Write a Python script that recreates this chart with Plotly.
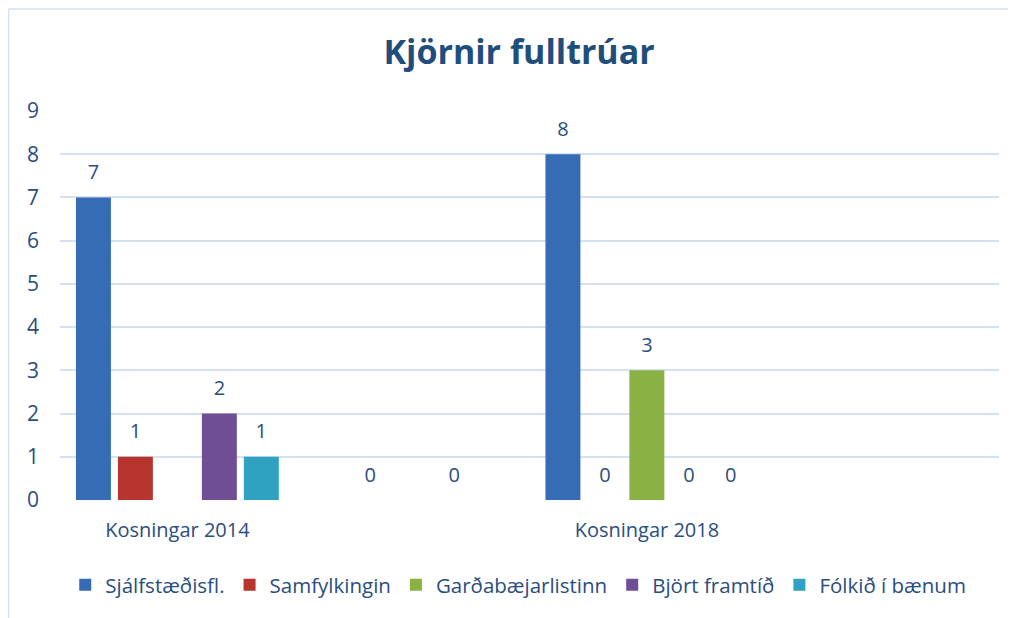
import plotly.graph_objects as go

categories = ["Kosningar 2014", " ", "Kosningar 2018", "  "]
series_names = ["Sjálfstæðisfl.", "Samfylkingin", "Garðabæjarlistinn", "Björt framtíð", "Fólkið í bænum"]
sjalfstaedisfl = [7, None, 8, None]
samfylkingin = [1, 0, 0, None]
gardabaejarlistinn = [None, None, 3, None]
bjort_framtid = [2, 0, 0, None]
folkid = [1, None, 0, None]
series_values = [sjalfstaedisfl, samfylkingin, gardabaejarlistinn, bjort_framtid, folkid]
colors = ["#356cb5", "#b8352f", "#8ab143", "#6f4e95", "#2ea2c0"]
y_ticks = list(range(0, 10))

TXT = "#2a4d7f"
FONT = "Open Sans"
BARGAP = 0.106

fig = go.Figure()
for name, vals, col in zip(series_names, series_values, colors):
    fig.add_trace(go.Bar(
        x=categories, y=vals, name=name,
        marker=dict(color=col, line=dict(width=0)),
        hoverinfo="skip",
    ))
for name, vals in zip(series_names, series_values):
    fig.add_trace(go.Scatter(
        x=categories, y=vals, name=name + " labels",
        mode="text+markers",
        marker=dict(size=20, opacity=0),
        text=[None if v is None else str(v) for v in vals],
        textposition="top center",
        textfont=dict(family=FONT, size=20, color=TXT),
        showlegend=False, hoverinfo="skip", cliponaxis=False,
    ))

fig.update_layout(
    width=1008, height=610,
    margin=dict(l=52, r=17, t=103, b=118),
    paper_bgcolor="white", plot_bgcolor="white",
    barmode="group", bargap=BARGAP, bargroupgap=0.167,
    scattermode="group", scattergap=BARGAP,
    title=dict(text="<b>Kjörnir fulltrúar</b>", x=0.507, xanchor="center",
               y=1 - 44 / 610, yanchor="middle",
               font=dict(family=FONT, size=34, color="#1f4e7d")),
    font=dict(family=FONT, color=TXT),
    showlegend=True,
    legend=dict(orientation="h", x=0.488, xanchor="center", y=-0.2185, yanchor="middle",
                font=dict(family=FONT, size=20.5, color=TXT),
                itemwidth=30, traceorder="normal"),
    xaxis=dict(type="category", categoryorder="array", categoryarray=categories,
               showline=False, showgrid=False, ticks="", ticklabelstandoff=16,
               tickfont=dict(family=FONT, size=20, color=TXT)),
    yaxis=dict(range=[0, 9], tickvals=y_ticks, showgrid=True,
               gridcolor="#d5e1f1", gridwidth=1.5, zeroline=False, showline=False,
               ticks="", ticklabelstandoff=20,
               tickfont=dict(family=FONT, size=21, color=TXT)),
    shapes=[
        dict(type="line", xref="paper", yref="paper", x0=0.5 / 939 - 52 / 939, x1=1.02,
             y0=(389 + 103 - 1) / 389, y1=(389 + 103 - 1) / 389,
             line=dict(color="#d5e1f1", width=1.5)),
        dict(type="line", xref="paper", yref="paper", x0=0.5 / 939 - 52 / 939, x1=0.5 / 939 - 52 / 939,
             y0=(389 + 103 - 1) / 389, y1=-0.31,
             line=dict(color="#d5e1f1", width=1.5)),
    ],
)

fig.write_html("out.html")
